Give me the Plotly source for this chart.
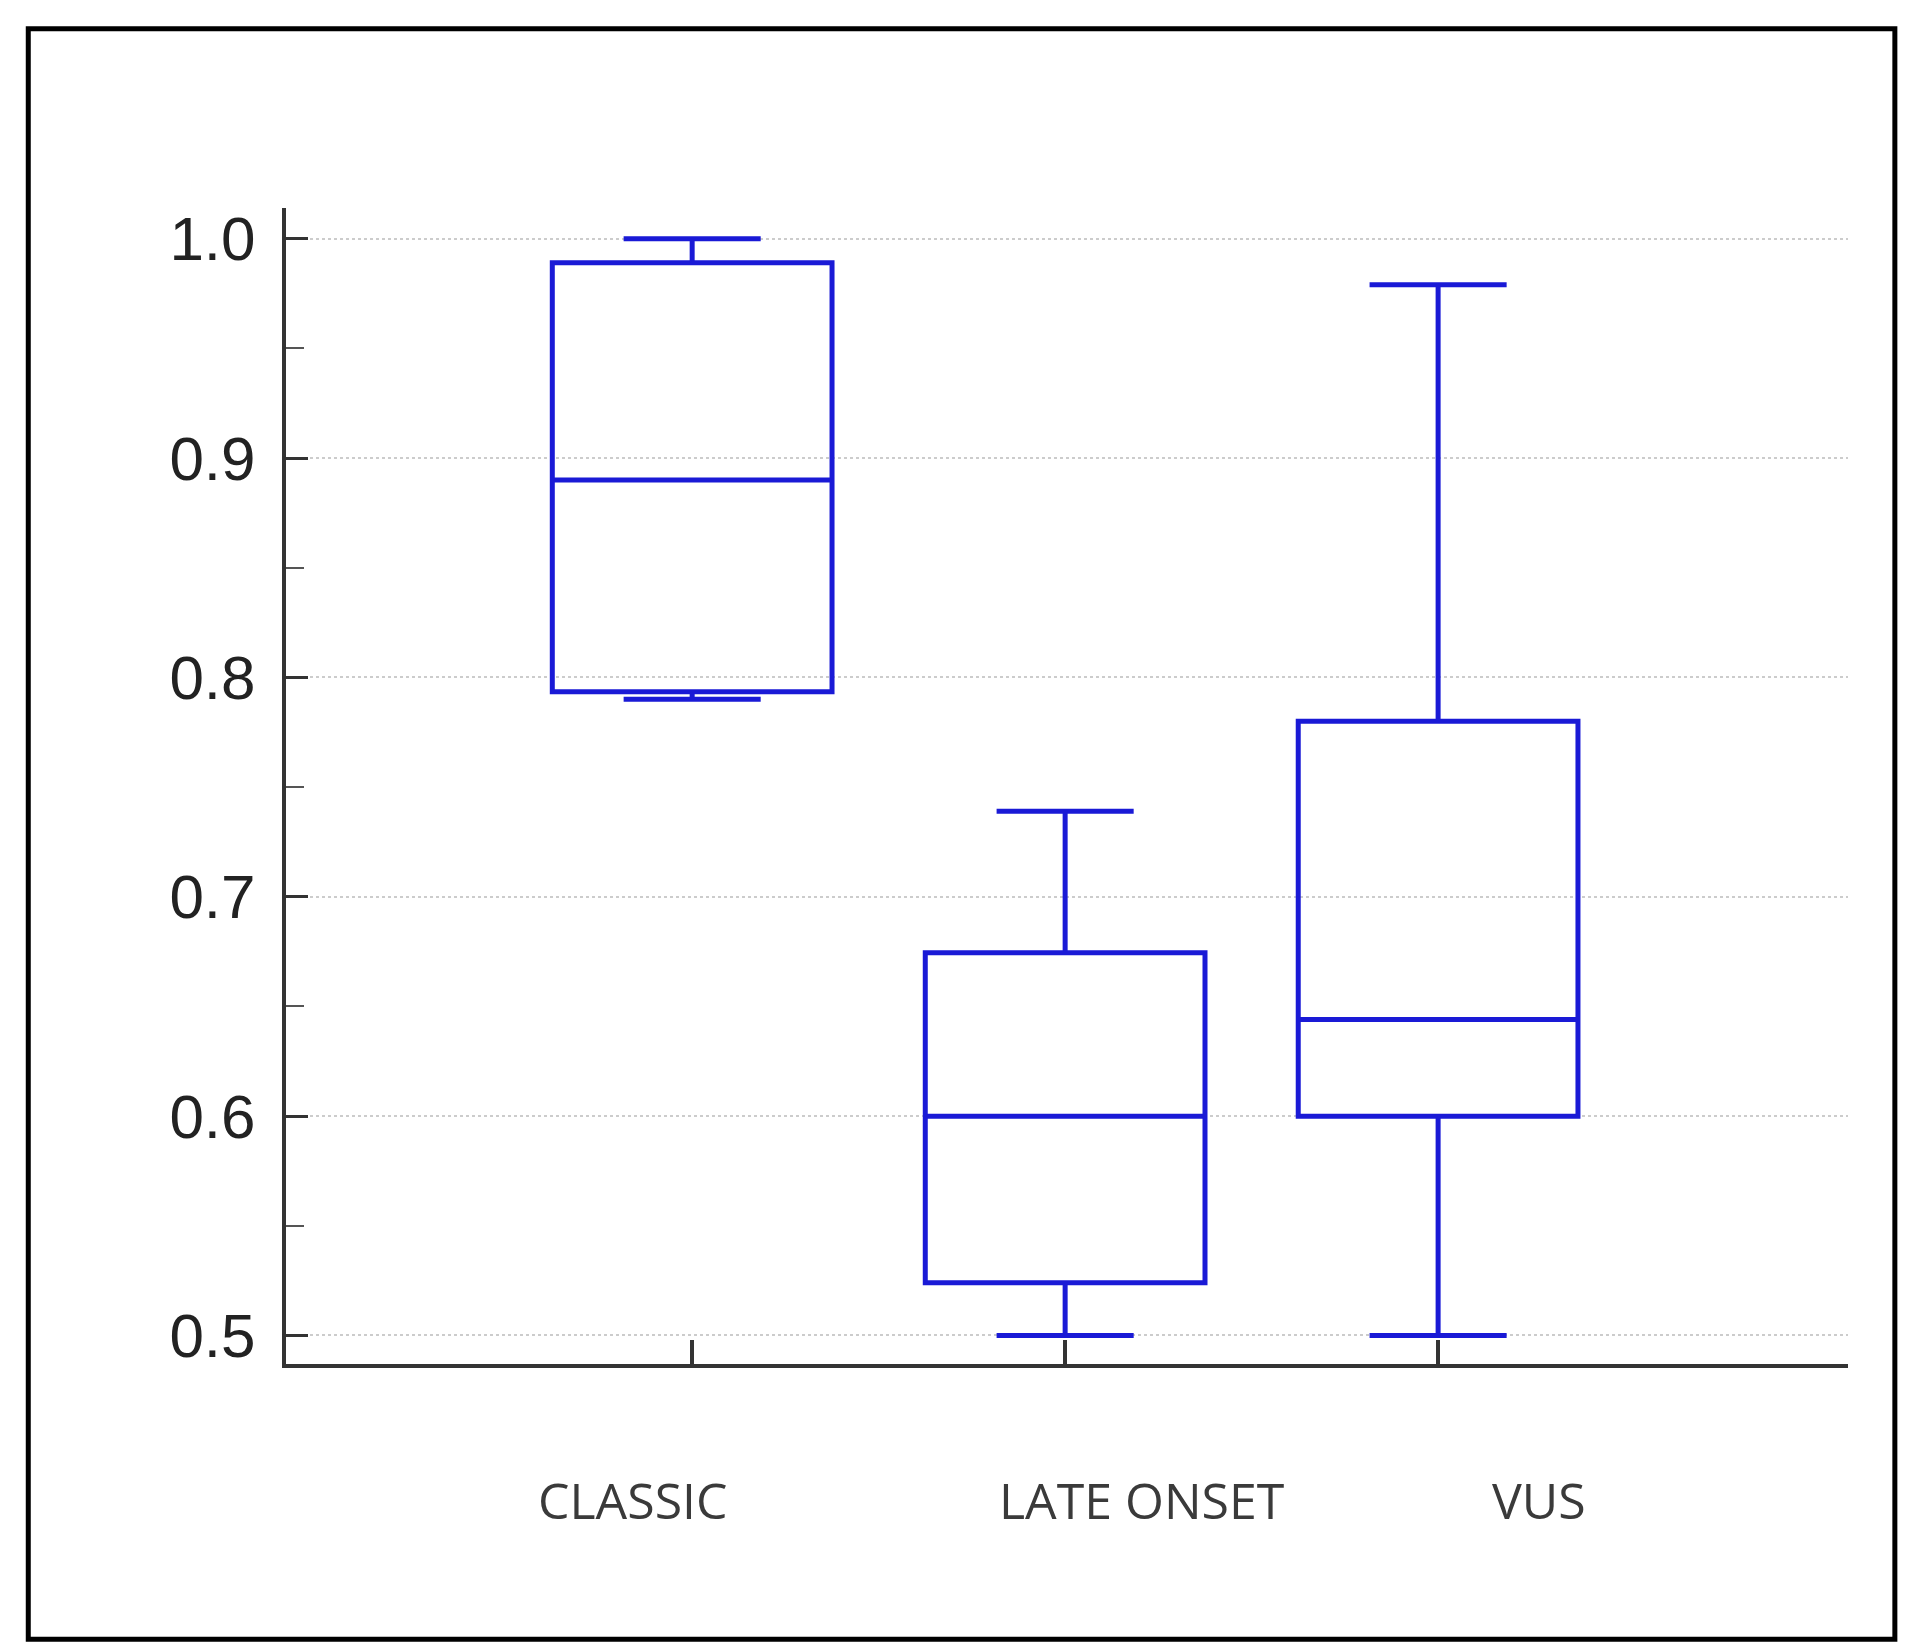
import plotly.graph_objects as go

categories = ["CLASSIC", "LATE ONSET", "VUS"]
positions = [1, 2, 3]
lower = [0.790, 0.500, 0.500]
q1 = [0.7935, 0.524, 0.600]
median = [0.890, 0.600, 0.644]
q3 = [0.989, 0.6745, 0.780]
upper = [1.000, 0.739, 0.979]
label_x = [0.842, 2.207, 3.27]
yticks = [0.5, 0.6, 0.7, 0.8, 0.9, 1.0]

blue = "#1a1ad6"
fig = go.Figure()
fig.add_trace(go.Box(
    x=positions, q1=q1, median=median, q3=q3, lowerfence=lower, upperfence=upper,
    width=0.75, whiskerwidth=0.49, fillcolor="rgba(0,0,0,0)",
    line=dict(color=blue, width=5), boxpoints=False, hoverinfo="skip"))

for xv, name in zip(label_x, categories):
    fig.add_annotation(x=xv, y=-0.149, xref="x", yref="paper", text=name, showarrow=False,
                       font=dict(family="Open Sans", size=50, color="#3a3a3a"))

fig.add_shape(type="rect", xref="paper", yref="paper", x0=-0.165, x1=1.03, y0=-0.238, y1=1.155,
              line=dict(color="black", width=5))

fig.update_layout(
    width=1914, height=1650, paper_bgcolor="white", plot_bgcolor="white",
    margin=dict(l=278, r=74, t=200, b=294), showlegend=False,
    xaxis=dict(range=[-0.089, 4.099], tickvals=positions, ticktext=["", "", ""],
               ticks="inside", ticklen=24, tickwidth=4, tickcolor="#333",
               showline=True, linecolor="#333", linewidth=4, showgrid=False, zeroline=False),
    yaxis=dict(range=[0.487, 1.014], tickvals=yticks, ticktext=[f"{v:.1f}" for v in yticks],
               ticks="inside", ticklen=22, tickwidth=3, tickcolor="#333",
               minor=dict(dtick=0.05, tick0=0.5, ticks="inside", ticklen=18, tickwidth=2, tickcolor="#555", showgrid=False),
               tickfont=dict(family="Liberation Sans", size=62, color="#222"),
               ticklabelstandoff=14,
               showline=True, linecolor="#333", linewidth=4,
               showgrid=True, gridcolor="#cccccc", griddash="dot", gridwidth=2, zeroline=False),
)
fig.write_html("out.html")
